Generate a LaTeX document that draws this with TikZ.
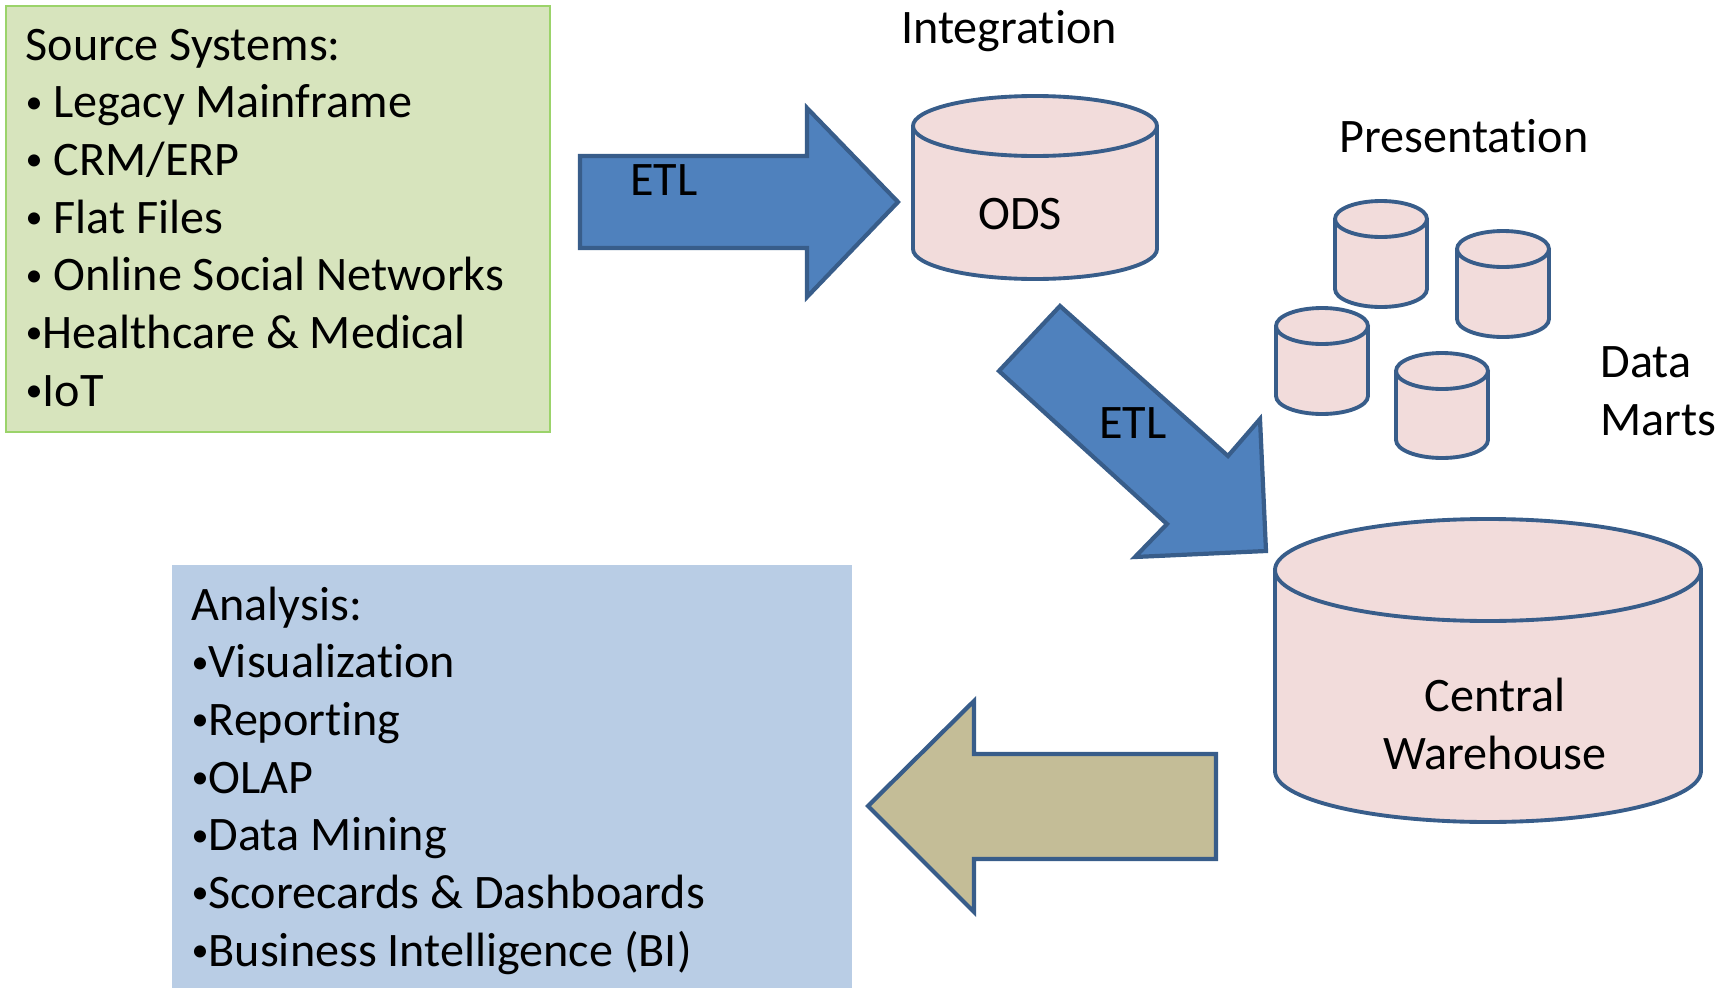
\documentclass[tikz,border=0pt]{standalone}
\usepackage{fontspec}
\setmainfont{Carlito}[Ligatures=NoCommon]
\definecolor{armblue}{HTML}{4F81BD}
\definecolor{armedge}{HTML}{385D8A}
\definecolor{dbpink}{HTML}{F2DCDB}
\definecolor{srcgreen}{HTML}{D7E4BD}
\definecolor{srcedge}{HTML}{9BD36A}
\definecolor{anablue}{HTML}{B9CDE5}
\definecolor{armtan}{HTML}{C4BD97}
\tikzset{
  blk/.style={draw=armedge, line width=1.2pt},
  cyl/.style={draw=armedge, fill=dbpink, line width=1.1pt},
  lbl/.style={inner sep=0pt, font=\fontsize{13.7}{16.4}\selectfont},
  lst/.style={lbl, align=left, anchor=base west},
}
\newcommand{\bul}{\raisebox{1.3pt}{\fontsize{9.7}{9.7}\selectfont•}}
% cylinder: centre x, top y, bottom y, x radius, y radius
\newcommand{\dbcyl}[5]{%
  \filldraw[cyl] (#1-#4,#2) -- (#1-#4,#3) arc[start angle=180, end angle=360, x radius=#4, y radius=#5] -- (#1+#4,#2);
  \filldraw[cyl] (#1,#2) ellipse[x radius=#4, y radius=#5];}
\begin{document}
\begin{tikzpicture}[x=0.1mm, y=0.1mm]
  \useasboundingbox (0,0) rectangle (1735,988);
  % boxes (lists sit on the baseline of their last line)
  \draw[draw=srcedge, fill=srcgreen, line width=0.7pt] (6,556) rectangle (550,982);
  \fill[anablue] (172,0) rectangle (852,423);
  \node[lst] (src) at (25,582) {Source Systems:\\\bul{} Legacy Mainframe\\\bul{} CRM/ERP\\\bul{} Flat Files\\\bul{} Online Social Networks\\\bul Healthcare \& Medical\\\bul IoT};
  \node[lst] (ana) at (191,22) {Analysis:\\\bul Visualization\\\bul Reporting\\\bul OLAP\\\bul Data Mining\\\bul Scorecards \& Dashboards\\\bul Business Intelligence (BI)};
  % databases
  \dbcyl{1035}{862}{739}{122}{30}
  \foreach \cx/\yt/\yb in {1381/769/699, 1503/739/669, 1322/662/592, 1442/617/548} \dbcyl{\cx}{\yt}{\yb}{46}{18};
  \dbcyl{1488}{418}{217}{213}{51}
  \node[lbl] (ods) at (1020,774) {ODS};
  \node[lbl, align=center] (cw) at (1495,264) {Central\\Warehouse};
  \node[lbl] (integ) at (1009,957) {Integration};
  \node[lbl] (pres) at (1464,852) {Presentation};
  \node[lst] (marts) at (1600,553) {Data\\Marts};
  % block arrows
  \filldraw[blk, fill=armblue] (580,832) -- (807,832) -- (807,880) -- (898,786) -- (807,691) -- (807,740) -- (580,740) -- cycle;
  \filldraw[blk, fill=armblue] (1060,682) -- (1228,532) -- (1260,569) -- (1266,437) -- (1135,431) -- (1167,464) -- (999,617) -- cycle;
  \filldraw[blk, fill=armtan] (1216,234) -- (974,234) -- (974,287) -- (868,182) -- (974,76) -- (974,129) -- (1216,129) -- cycle;
  \node[lbl] (etl1) at (664,808) {ETL};
  \node[lbl] (etl2) at (1133,565) {ETL};
\end{tikzpicture}
\end{document}
